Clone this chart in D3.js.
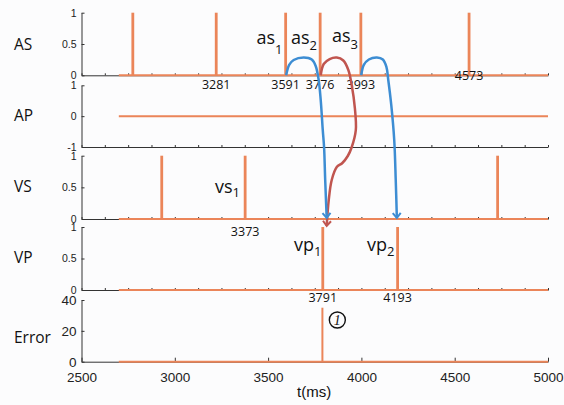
<!DOCTYPE html>
<html>
<head>
<meta charset="utf-8">
<script src="https://cdn.jsdelivr.net/npm/d3@7"></script>
<style>
  body { margin: 0; background: #fcfcfd; }
  svg { display: block; }
  .lbl { font-family: "Open Sans", sans-serif; fill: #111; }
  .tick text { font-family: "Liberation Sans", Arial, sans-serif; fill: #222; }
</style>
</head>
<body>
<div id="chart"></div>
<script>
// Signal names and spike times (ms)
var panelNames = ["AS", "AP", "VS", "VP", "Error"]
var asSpikes = [2775, 3222, 3594, 3779, 3997, 4577]
var vsSpikes = [2930, 3377, 4730]
var vpSpikes = [3793, 4194]
var errTimes = [3791]
var errValues = [35]
var traceStart = 2700, traceEnd = 5000

// Tick values
var xTicksMajor = [2500, 3000, 3500, 4000, 4500, 5000]
var xTicksMinor = d3.range(2500, 5001, 125)
var yTicks01 = [0, 0.5, 1]
var yTicksAP = [-1, 0, 1]
var yTicksErr = [0, 20, 40]

// Event annotations (labels + times printed on the figure)
var asLabels = ["3281", "3591", "3776", "3993", "4573"]
var asLabelT = [3222, 3594, 3779, 3997, 4577]
var vsLabels = ["3373"]
var vsLabelT = [3377]
var vpLabels = ["3791", "4193"]
var vpLabelT = [3793, 4194]

// Arrow curves: [time, panel, value in that panel]
var blue1 = [[3597,"AS",0],[3613,"AS",0.165],[3637,"AS",0.244],[3691,"AS",0.284],[3734,"AS",0.252],
  [3755,"AS",0.149],[3771,"AS",-0.075],[3782,"AS",-0.395],[3793,"AP",-0.455],[3800,"AP",-1.008],
  [3806,"VS",0.616],[3814,"VS",0.016]]
var blue2 = [[3999,"AS",0],[4013,"AS",0.165],[4040,"AS",0.252],[4083,"AS",0.284],[4115,"AS",0.252],
  [4134,"AS",0.133],[4144,"AS",-0.075],[4160,"AS",-0.474],[4176,"AP",-0.78],[4184,"VS",0.616],
  [4190,"VS",0.016]]
var red1 = [[3782,"AS",0],[3798,"AS",0.18],[3830,"AS",0.26],[3868,"AS",0.284],[3903,"AS",0.236],
  [3930,"AS",0.085],[3948,"AS",-0.155],[3965,"AP",0.26],[3970,"AP",-0.455],[3948,"AP",-1.008],
  [3927,"VS",0.995],[3898,"VS",0.885],[3868,"VS",0.82],[3841,"VS",0.616],[3825,"VS",0.3],[3814,"VP",1.016]]

var width = 564, height = 405
var orange = "#eb8559", blue = "#3d8dd3", red = "#c0554f", axisCol = "#333"

var svg = d3.select("#chart").append("svg")
  .attr("width", width).attr("height", height)
svg.append("rect").attr("width", width).attr("height", height).attr("fill", "#fcfcfd")

var x = d3.scaleLinear().domain([2500, 5000]).range([81.5, 548])

var panels = {
  AS: { y: d3.scaleLinear().domain([0, 1]).range([75.3, 12.7]), ticks: yTicks01, base: 0, lblY: 50 },
  AP: { y: d3.scaleLinear().domain([-1, 1]).range([147, 85.3]), ticks: yTicksAP, base: -1, lblY: 121 },
  VS: { y: d3.scaleLinear().domain([0, 1]).range([219, 155.7]), ticks: yTicks01, base: 0, lblY: 192 },
  VP: { y: d3.scaleLinear().domain([0, 1]).range([290, 227]), ticks: yTicks01, base: 0, lblY: 263 },
  Error: { y: d3.scaleLinear().domain([0, 40]).range([361.7, 300]), ticks: yTicksErr, base: 0, lblY: 343 }
}

var line = d3.line()
  .x(function(d) { return x(d[0]) })
  .y(function(d) { return d[1] })

// Axes and panel labels
panelNames.forEach(function(name) {
  var p = panels[name]
  var isErr = name === "Error"

  var ya = svg.append("g")
    .attr("transform", "translate(" + x(2500) + ",0)")
    .call(d3.axisLeft(p.y).tickValues(p.ticks).tickSize(-3).tickSizeOuter(0).tickPadding(5)
      .tickFormat(function(d) { return String(d) }))
  ya.selectAll("text").style("font-size", isErr ? "13.5px" : "10.5px")

  var xa = svg.append("g")
    .attr("transform", "translate(0," + p.y(p.base) + ")")
    .call(d3.axisBottom(x).tickValues(isErr ? xTicksMajor : xTicksMinor)
      .tickSize(isErr ? -4 : -2).tickSizeOuter(0).tickPadding(11)
      .tickFormat(isErr ? function(d) { return String(d) } : ""))
  xa.selectAll("text").style("font-size", "13.5px")

  svg.selectAll("g .domain, g .tick line").attr("stroke", axisCol)

  svg.append("text").attr("class", "lbl")
    .attr("x", 14).attr("y", p.lblY)
    .style("font-size", "15.5px")
    .text(name)
})

// Baseline traces
panelNames.forEach(function(name) {
  var p = panels[name]
  svg.append("path")
    .datum([[traceStart, p.y(0)], [traceEnd, p.y(0)]])
    .attr("d", line)
    .attr("fill", "none").attr("stroke", orange).attr("stroke-width", 2)
})

// Spikes
function spikes(name, times, values, w) {
  var p = panels[name]
  svg.append("g").selectAll("line")
    .data(times)
    .join("line")
    .attr("x1", function(d) { return x(d) })
    .attr("x2", function(d) { return x(d) })
    .attr("y1", p.y(0))
    .attr("y2", function(d, i) { return p.y(values ? values[i] : 1) })
    .attr("stroke", orange).attr("stroke-width", w)
}
spikes("AS", asSpikes, null, 2.8)
spikes("VS", vsSpikes, null, 2.8)
spikes("VP", vpSpikes, null, 2.8)
spikes("Error", errTimes, errValues, 2)

// Time labels under spikes
function timeLabels(name, labels, times, dy) {
  var p = panels[name]
  svg.append("g").selectAll("text")
    .data(labels)
    .join("text")
    .attr("class", "lbl")
    .attr("x", function(d, i) { return x(times[i]) })
    .attr("y", function(d, i) { return p.y(0) + (typeof dy === "function" ? dy(d) : dy) })
    .attr("text-anchor", "middle")
    .style("font-size", "12.5px")
    .text(function(d) { return d })
}
timeLabels("AS", asLabels, asLabelT, function(d) { return d === "4573" ? 5 : 14 })
timeLabels("VS", vsLabels, vsLabelT, 16.5)
timeLabels("VP", vpLabels, vpLabelT, 11.5)

// Event names with subscripts
var evNames = [["as", "1", 256.5, 43.5, 10], ["as", "2", 291, 43.5, 6], ["as", "3", 332, 42, 6.5],
  ["vs", "1", 215, 193, 3.5], ["vp", "1", 294, 251, 5], ["vp", "2", 367, 251, 5]]
evNames.forEach(function(e) {
  var t = svg.append("text").attr("class", "lbl")
    .attr("x", e[2]).attr("y", e[3])
    .style("font-size", "18px")
  t.append("tspan").text(e[0])
  t.append("tspan").attr("dy", e[4]).style("font-size", "13px").text(e[1])
})

// Circled "1"
var cx = x(3871), cy = 320
svg.append("circle").attr("cx", cx).attr("cy", cy).attr("r", 8)
  .attr("fill", "none").attr("stroke", "#111").attr("stroke-width", 1.4)
svg.append("text").attr("x", cx).attr("y", cy + 5)
  .attr("text-anchor", "middle")
  .style("font-family", "'Liberation Serif', serif").style("font-style", "italic")
  .style("font-size", "14px").attr("fill", "#111")
  .text("1")

// Arrow curves
var defs = svg.append("defs")
function marker(id, col) {
  defs.append("marker")
    .attr("id", id).attr("viewBox", "-6 -6 12 12")
    .attr("refX", 0).attr("refY", 0)
    .attr("markerWidth", 12).attr("markerHeight", 12)
    .attr("markerUnits", "userSpaceOnUse")
    .attr("orient", "auto")
    .append("path").attr("d", "M-5,-4L0,0L-5,4")
    .attr("fill", "none").attr("stroke", col).attr("stroke-width", 2)
}
marker("ab", blue)
marker("ar", red)

var curve = d3.line()
  .x(function(d) { return x(d[0]) })
  .y(function(d) { return panels[d[1]].y(d[2]) })
  .curve(d3.curveCatmullRom.alpha(0.5))

svg.append("path").datum(red1).attr("d", curve)
  .attr("fill", "none").attr("stroke", red).attr("stroke-width", 2.5).attr("marker-end", "url(#ar)")
svg.append("path").datum(blue1).attr("d", curve)
  .attr("fill", "none").attr("stroke", blue).attr("stroke-width", 2.5).attr("marker-end", "url(#ab)")
svg.append("path").datum(blue2).attr("d", curve)
  .attr("fill", "none").attr("stroke", blue).attr("stroke-width", 2.5).attr("marker-end", "url(#ab)")

// X axis title
svg.append("text")
  .attr("x", 297).attr("y", 397)
  .style("font-family", "'Liberation Sans', Arial, sans-serif")
  .style("font-size", "15px").attr("fill", "#111")
  .text("t(ms)")
</script>
</body>
</html>
